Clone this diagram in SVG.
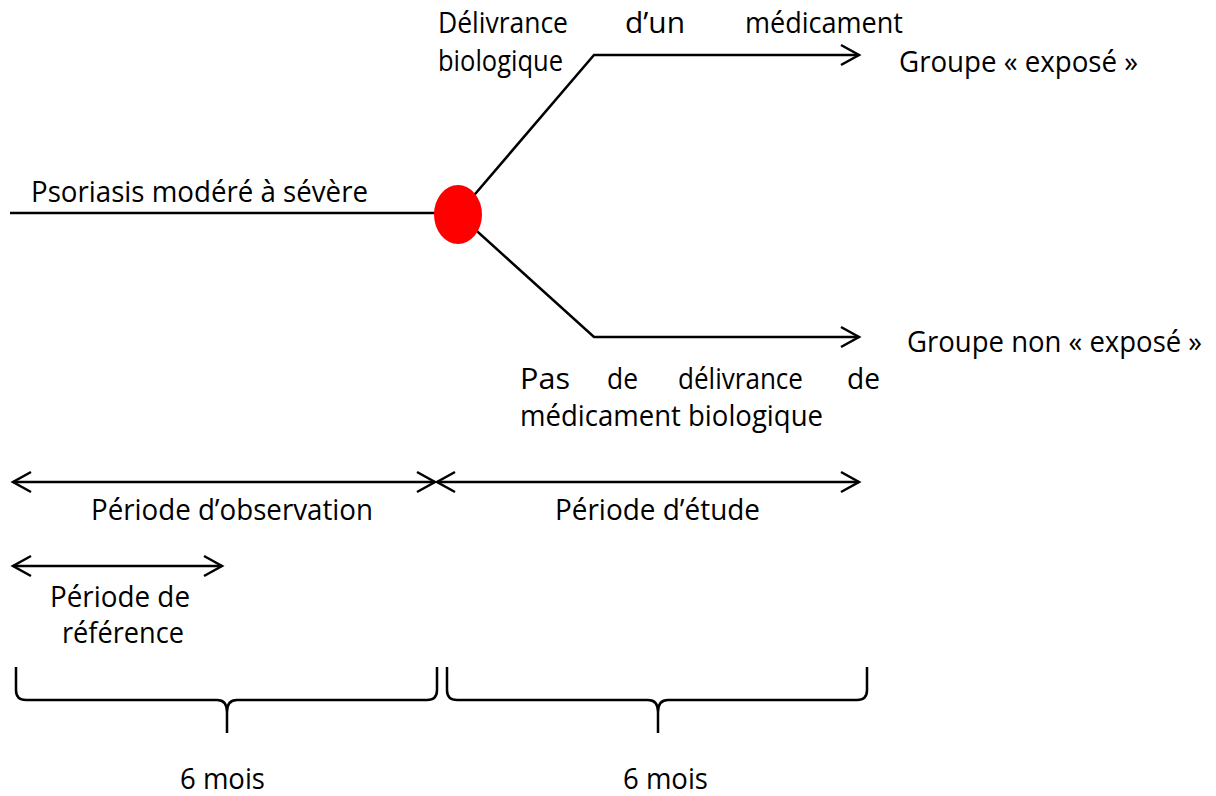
<svg xmlns="http://www.w3.org/2000/svg" width="1216" height="796" viewBox="0 0 1216 796">
<style>
text{font-family:"Open Sans","Liberation Sans",sans-serif;font-size:29px;fill:#000}
.ln{fill:none;stroke:#000;stroke-width:2.5}
</style>
<defs>
<marker id="ah" markerUnits="userSpaceOnUse" markerWidth="24" markerHeight="26" refX="20" refY="12" orient="auto-start-reverse" viewBox="0 0 24 24">
<path d="M2,2 L20,12 L2,22" fill="none" stroke="#000" stroke-width="2.5"/>
</marker>
</defs>
<rect width="1216" height="796" fill="#fff"/>
<g id="connectors">
<path class="ln" d="M10,213 L440,213"/>
<path class="ln" d="M458,214 L594,55 L859,55" marker-end="url(#ah)"/>
<path class="ln" d="M458,214 L594,337 L859,337" marker-end="url(#ah)"/>
<path class="ln" d="M13,482 L435,482" marker-start="url(#ah)" marker-end="url(#ah)"/>
<path class="ln" d="M437,482 L859,482" marker-start="url(#ah)" marker-end="url(#ah)"/>
<path class="ln" d="M13,566 L222,566" marker-start="url(#ah)" marker-end="url(#ah)"/>
<path class="ln" d="M16,667 L16,690 Q16,700 26,700 L217,700 Q227,700 227,712 L227,733 M227,712 Q227,700 237,700 L427,700 Q437,700 437,690 L437,667"/>
<path class="ln" d="M447,667 L447,690 Q447,700 457,700 L648,700 Q658,700 658,712 L658,733 M658,712 Q658,700 668,700 L857,700 Q867,700 867,690 L867,667"/>
</g>
<g id="node-psoriasis">
<text x="31" y="202" textLength="337" lengthAdjust="spacingAndGlyphs">Psoriasis modéré à sévère</text>
</g>
<g id="node-point">
<ellipse cx="458" cy="214.5" rx="24" ry="29.5" fill="#ff0000"/>
</g>
<g id="node-delivrance">
<text x="438" y="33" textLength="130" lengthAdjust="spacingAndGlyphs">Délivrance</text>
<text x="625" y="33" textLength="60" lengthAdjust="spacingAndGlyphs">d’un</text>
<text x="745" y="33" textLength="158" lengthAdjust="spacingAndGlyphs">médicament</text>
<text x="438" y="71" textLength="125" lengthAdjust="spacingAndGlyphs">biologique</text>
</g>
<g id="node-expose">
<text x="899" y="72" textLength="239" lengthAdjust="spacingAndGlyphs">Groupe « exposé »</text>
</g>
<g id="node-non-expose">
<text x="907" y="352" textLength="295" lengthAdjust="spacingAndGlyphs">Groupe non « exposé »</text>
</g>
<g id="node-pas-delivrance">
<text x="520" y="389" textLength="50" lengthAdjust="spacingAndGlyphs">Pas</text>
<text x="607" y="389" textLength="31" lengthAdjust="spacingAndGlyphs">de</text>
<text x="678" y="389" textLength="125" lengthAdjust="spacingAndGlyphs">délivrance</text>
<text x="847" y="389" textLength="33" lengthAdjust="spacingAndGlyphs">de</text>
<text x="520" y="426" textLength="303" lengthAdjust="spacingAndGlyphs">médicament biologique</text>
</g>
<g id="node-observation">
<text x="91" y="520" textLength="282" lengthAdjust="spacingAndGlyphs">Période d’observation</text>
</g>
<g id="node-etude">
<text x="555" y="520" textLength="205" lengthAdjust="spacingAndGlyphs">Période d’étude</text>
</g>
<g id="node-reference">
<text x="50" y="607" textLength="140" lengthAdjust="spacingAndGlyphs">Période de</text>
<text x="62" y="643" textLength="122" lengthAdjust="spacingAndGlyphs">référence</text>
</g>
<g id="node-6mois-1">
<text x="180" y="789" textLength="85" lengthAdjust="spacingAndGlyphs">6 mois</text>
</g>
<g id="node-6mois-2">
<text x="623" y="789" textLength="85" lengthAdjust="spacingAndGlyphs">6 mois</text>
</g>
</svg>
